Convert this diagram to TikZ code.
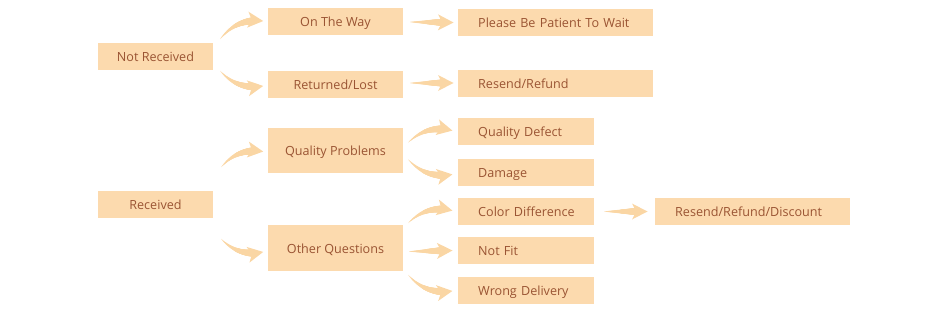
\documentclass[tikz,border=0pt]{standalone}
\usepackage{fontspec}
\setmainfont{Open Sans}
\usetikzlibrary{calc,decorations.markings}

\definecolor{boxfill}{HTML}{FCDAAE}
\definecolor{arrowfill}{HTML}{FAD6A4}
\definecolor{boxtext}{HTML}{9A5433}

\tikzset{
  box/.style={fill=boxfill, text=boxtext, font=\fontsize{12.6}{15}\selectfont,
    inner sep=0pt, minimum height=27pt, text height=10pt, text depth=0pt},
  leftbox/.style={box, anchor=west, align=left, text width=#1,
    execute at begin node={\hspace*{20pt}}},
  brush/.style={decoration={markings,
      mark=between positions 0 and -11pt step 0.4pt with {%
        \pgfmathsetmacro{\rr}{0.2+3.4*\pgfkeysvalueof{/pgf/decoration/mark info/distance from start}/(\pgfdecoratedpathlength-11)}%
        \fill[arrowfill] (0,0) circle (\rr pt);},
      mark=at position 1 with {%
        \fill[arrowfill] (0.5pt,0) -- (-15pt,8pt) -- (-11pt,0) -- (-15pt,-8pt) -- cycle;}},
    decorate}
}

\begin{document}
\begin{tikzpicture}[x=1pt, y=-1pt]
  \useasboundingbox (0,0) rectangle (950,316);

  % first column
  \node[box, minimum width=115pt] (nr) at (155.5,56) {Not Received};
  \node[box, minimum width=115pt] (rec) at (155.5,204) {Received};

  % second column
  \node[box, minimum width=135pt] (way) at (335.5,21) {On The Way};
  \node[box, minimum width=135pt] (lost) at (335.5,84) {Returned/Lost};
  \node[box, minimum width=135pt, minimum height=45pt] (qp) at (335.5,150.5) {Quality Problems};
  \node[box, minimum width=135pt, minimum height=46pt] (oq) at (335.5,248) {Other Questions};

  % third column
  \node[leftbox=195pt] (wait) at (458,22.5) {Please Be Patient To Wait};
  \node[leftbox=195pt] (resend) at (458,83) {Resend/Refund};
  \node[leftbox=136pt] (defect) at (458,131.5) {Quality Defect};
  \node[leftbox=136pt] (damage) at (458,172.5) {Damage};
  \node[leftbox=136pt] (color) at (458,211.5) {Color Difference};
  \node[leftbox=136pt] (fit) at (458,250.5) {Not Fit};
  \node[leftbox=136pt] (wrong) at (458,290) {Wrong Delivery};

  % fourth column
  \node[leftbox=195pt] (rrd) at (655,211.5) {Resend/Refund/Discount};

  % connectors
  \path[brush] ($(nr.east)+(7,-17)$) to[bend left=28] ($(way.west)+(-5,0)$);
  \path[brush] ($(nr.east)+(7,15)$) to[bend right=28] ($(lost.west)+(-5,2)$);
  \path[brush] ($(way.east)+(7,1)$) -- ($(wait.west)+(-5,0)$);
  \path[brush] ($(lost.east)+(7,-1)$) -- ($(resend.west)+(-5,0)$);
  \path[brush] ($(rec.east)+(8,-37)$) to[bend left=28] ($(qp.west)+(-5,1)$);
  \path[brush] ($(rec.east)+(8,35)$) to[bend right=28] ($(oq.west)+(-5,4)$);
  \path[brush] ($(qp.east)+(5,-8)$) to[bend left=28] ($(defect.west)+(-6,-1)$);
  \path[brush] ($(qp.east)+(5,9)$) to[bend right=28] ($(damage.west)+(-6,2)$);
  \path[brush] ($(oq.east)+(5,-25)$) to[bend left=28] ($(color.west)+(-6,-1)$);
  \path[brush] ($(oq.east |- fit.west)+(6,1)$) -- ($(fit.west)+(-6,0)$);
  \path[brush] ($(oq.east)+(5,27)$) to[bend right=28] ($(wrong.west)+(-6,1)$);
  \path[brush] ($(color.east)+(10,0)$) -- ($(rrd.west)+(-8,0)$);
\end{tikzpicture}
\end{document}
